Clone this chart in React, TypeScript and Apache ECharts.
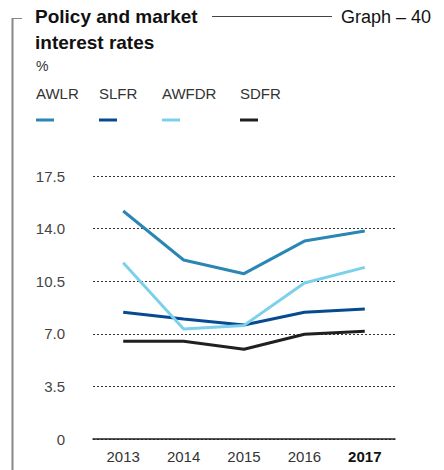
import React, { useEffect, useRef } from "react";
import * as echarts from "echarts";

const categories = ["2013", "2014", "2015", "2016", "2017"];
const awlr = [15.17, 11.91, 11.0, 13.17, 13.84];
const slfr = [8.43, 7.98, 7.59, 8.43, 8.65];
const awfdr = [11.73, 7.32, 7.56, 10.38, 11.42];
const sdfr = [6.5, 6.5, 5.97, 6.97, 7.17];
const seriesNames = ["AWLR", "SLFR", "AWFDR", "SDFR"];
const seriesColors = ["#2a86b3", "#064a92", "#7dd0ea", "#231f20"];

const FONT = "'Liberation Sans', Arial, sans-serif";

export default function App() {
  const ref = useRef<HTMLDivElement>(null);
  useEffect(() => {
    const chart = echarts.init(ref.current!, undefined, { renderer: "svg" });
    const data = [awlr, slfr, awfdr, sdfr];
    const legendX = [36, 99, 162, 240];
    const graphics: any[] = [
      { type: "line", shape: { x1: 12.5, y1: 18, x2: 12.5, y2: 470 }, style: { stroke: "#888", lineWidth: 2 } },
      { type: "line", shape: { x1: 12, y1: 18.5, x2: 22, y2: 18.5 }, style: { stroke: "#888", lineWidth: 1 } },
      { type: "line", shape: { x1: 212, y1: 16.5, x2: 332, y2: 16.5 }, style: { stroke: "#444", lineWidth: 1 } },
      { type: "text", x: 35, y: 7, style: { text: "Policy and market", font: `bold 19px ${FONT}`, fill: "#111" } },
      { type: "text", x: 35, y: 33, style: { text: "interest rates", font: `bold 19px ${FONT}`, fill: "#111" } },
      { type: "text", x: 341, y: 8, style: { text: "Graph – 40", font: `18px ${FONT}`, fill: "#111" } },
      { type: "text", x: 36, y: 59, style: { text: "%", font: `14px ${FONT}`, fill: "#333" } },
    ];
    seriesNames.forEach((n, i) => {
      graphics.push({ type: "text", x: legendX[i], y: 86, style: { text: n, font: `15px ${FONT}`, fill: "#333" } });
      graphics.push({ type: "line", shape: { x1: legendX[i], y1: 120, x2: legendX[i] + 18, y2: 120 }, style: { stroke: seriesColors[i], lineWidth: 3 } });
    });
    chart.setOption({
      animation: false,
      grid: { left: 93, right: 49, top: 176, bottom: 31 },
      xAxis: {
        type: "category",
        data: categories,
        boundaryGap: true,
        axisLine: { lineStyle: { color: "#222", width: 1.5 } },
        axisTick: { show: false },
        axisLabel: {
          interval: 0,
          color: "#333",
          fontSize: 15,
          fontFamily: FONT,
          margin: 10,
          formatter: (v: string) => (v === "2017" ? `{b|${v}}` : v),
          rich: { b: { fontWeight: "bold", color: "#111", fontSize: 15, fontFamily: FONT } },
        },
      },
      yAxis: {
        type: "value",
        min: 0,
        max: 17.5,
        interval: 3.5,
        axisLine: { show: false },
        axisTick: { show: false },
        axisLabel: {
          color: "#444",
          fontSize: 15,
          fontFamily: FONT,
          margin: 28,
          formatter: (v: number) => (v === 0 ? "0" : v.toFixed(1)),
        },
        splitLine: { lineStyle: { color: "#333", type: [2, 2], width: 1 } },
      },
      graphic: graphics,
      series: data.map((d, i) => ({
        name: seriesNames[i],
        type: "line",
        data: d,
        symbol: "none",
        lineStyle: { color: seriesColors[i], width: 3 },
        z: i === 2 ? 3 : 2,
      })),
    });
    return () => chart.dispose();
  }, []);
  return <div ref={ref} style={{ width: 444, height: 470, position: "absolute", left: 0, top: 0 }} />;
}
